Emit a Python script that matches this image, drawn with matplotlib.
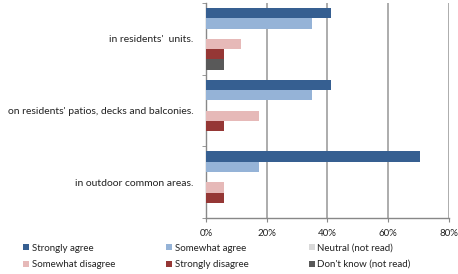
import matplotlib
matplotlib.use('Agg')
import matplotlib.pyplot as plt
import numpy as np

matplotlib.rcParams['font.family'] = ['Lato', 'DejaVu Sans']

categories = ["in residents'  units.",
              "on residents' patios, decks and balconies.",
              "in outdoor common areas."]
series_names = ['Strongly agree', 'Somewhat agree', 'Neutral (not read)',
                'Somewhat disagree', 'Strongly disagree', "Don't know (not read)"]
strongly_agree = [41, 41, 70.5]
somewhat_agree = [35, 35, 17.5]
neutral = [0, 0, 0]
somewhat_disagree = [11.5, 17.5, 6]
strongly_disagree = [6, 6, 6]
dont_know = [6, 0, 0]
series_values = [strongly_agree, somewhat_agree, neutral,
                 somewhat_disagree, strongly_disagree, dont_know]
colors = ['#365F91', '#95B3D7', '#D9D9D9', '#E6B9B8', '#953735', '#595959']

fig = plt.figure(figsize=(4.58, 2.74), dpi=100)
ax = fig.add_axes([0.450, 0.204, 0.530, 0.785])

n = len(series_names)
h = 0.143
centers = np.arange(len(categories))
handles = []
for i, (name, vals, c) in enumerate(zip(series_names, series_values, colors)):
    y = centers - (n - 1) / 2 * h + i * h
    b = ax.barh(y, vals, height=h, color=c, label=name, zorder=3)
    handles.append(b)

ax.set_ylim(len(categories) - 0.5, -0.5)
ax.set_xlim(0, 80)
ax.set_xticks([0, 20, 40, 60, 80])
ax.set_xticklabels(['0%', '20%', '40%', '60%', '80%'])
ax.set_yticks(centers)
ax.set_yticklabels(categories)
ax.set_yticks(np.arange(len(categories) + 1) - 0.5, minor=True)
ax.tick_params(axis='y', which='major', length=0, pad=9, labelsize=7.5, labelcolor='#222222')
ax.tick_params(axis='y', which='minor', length=3, color='#888888', direction='out')
ax.tick_params(axis='x', length=3, color='#888888', labelsize=7, labelcolor='#222222', pad=5)

ax.grid(axis='x', color='#A6A6A6', linewidth=1.3, zorder=0)
for s in ['top', 'right']:
    ax.spines[s].set_visible(False)
for s in ['left', 'bottom']:
    ax.spines[s].set_color('#888888')
    ax.spines[s].set_linewidth(1.0)

# one legend per column, rows: agree-side on top, disagree-side below
col_x = [0.050, 0.362, 0.674]
for c in range(3):
    idx = [c, c + 3]
    fig.legend([handles[i] for i in idx], [series_names[i] for i in idx],
               ncol=1, loc='lower left', bbox_to_anchor=(col_x[c], 0.018),
               frameon=False, fontsize=7, handlelength=0.6, handleheight=0.6,
               handletextpad=0.3, labelspacing=0.75, borderpad=0, borderaxespad=0,
               labelcolor='#222222')

fig.savefig('out.png', dpi=100)
